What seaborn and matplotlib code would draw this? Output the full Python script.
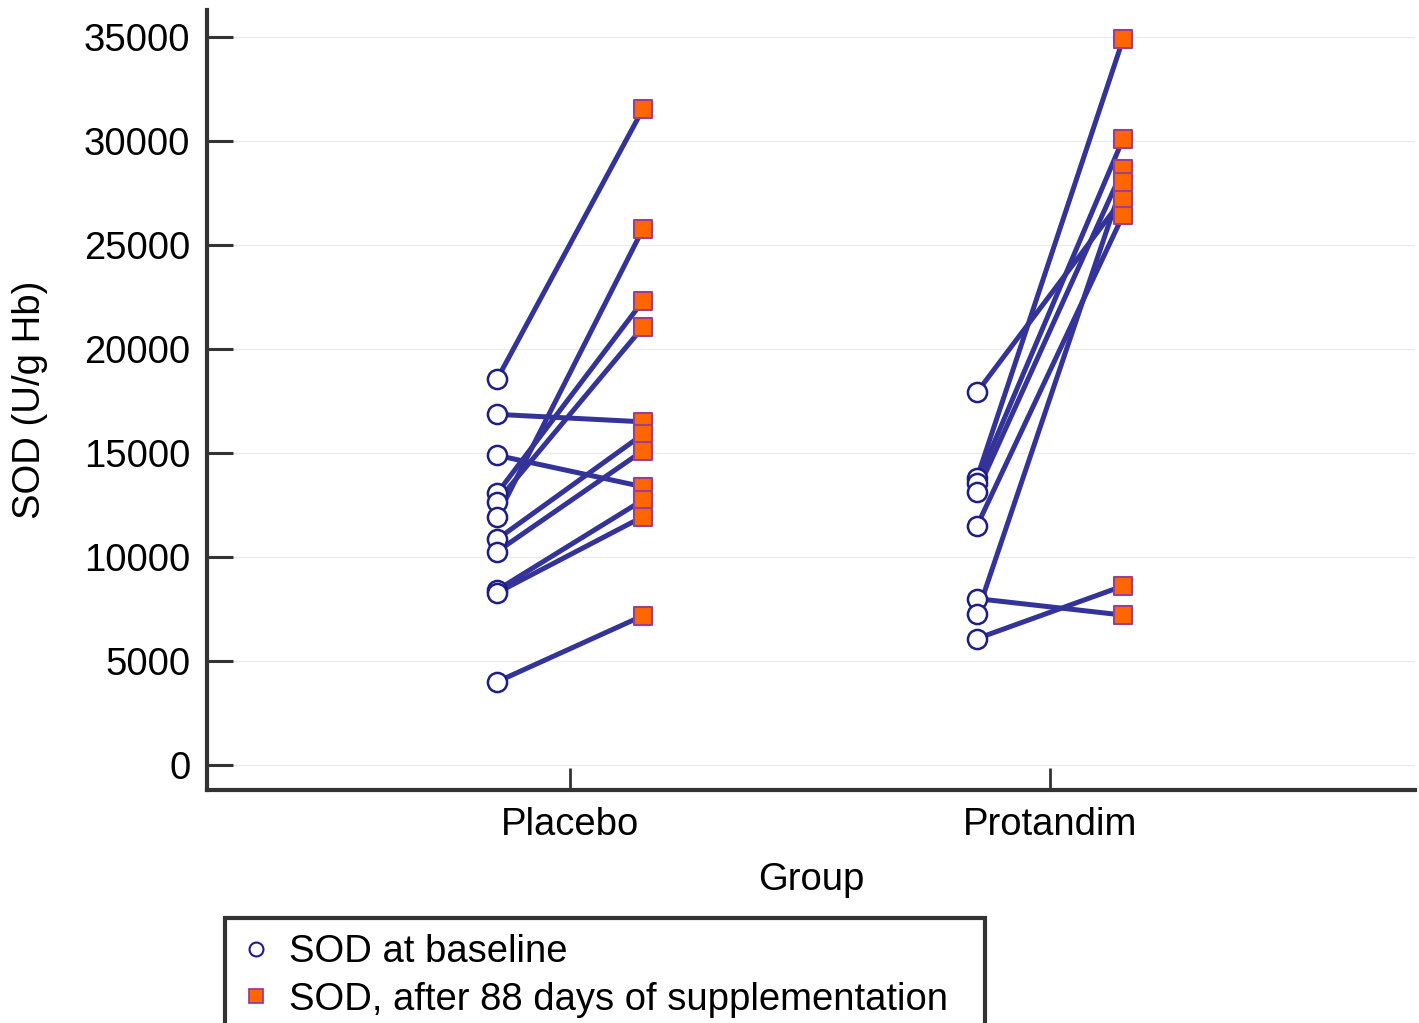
import matplotlib
matplotlib.use("Agg")
import matplotlib.pyplot as plt
import seaborn as sns
import pandas as pd
from matplotlib.lines import Line2D

# values, one entry per subject (baseline -> after 88 days)
groups = ["Placebo", "Protandim"]
placebo_baseline = [18540, 16860, 14890, 13060, 12660, 11940, 10850, 10260, 8410, 8280, 4000]
placebo_after = [31540, 16500, 13380, 22310, 21060, 25770, 15900, 15110, 12740, 11940, 7180]
protandim_baseline = [13820, 13580, 13150, 11510, 17930, 8000, 7280, 6080]
protandim_after = [34900, 30100, 28650, 26440, 27260, 7210, 28030, 8610]

yticks = [0, 5000, 10000, 15000, 20000, 25000, 30000, 35000]

LINE = "#333399"
CIRCLE_EDGE = "#1c1c8a"
SQ_FACE = "#ff6600"
SQ_EDGE = "#9c3f8c"
AXC = "#333333"
OFF = 0.152
FS = 27.5

rows = []
sid = 0
for gi, (base, after) in enumerate([(placebo_baseline, placebo_after),
                                    (protandim_baseline, protandim_after)]):
    for b, a in zip(base, after):
        rows.append(dict(subject=sid, group=groups[gi], phase="baseline", x=gi - OFF, sod=b))
        rows.append(dict(subject=sid, group=groups[gi], phase="after", x=gi + OFF, sod=a))
        sid += 1
df = pd.DataFrame(rows)

sns.set_style("white")
plt.rcParams["font.family"] = ["Liberation Sans", "DejaVu Sans"]

fig = plt.figure(figsize=(14.19, 10.23), dpi=100)
ax = fig.add_axes([207 / 1419, 1 - 790 / 1023, 1208 / 1419, 780 / 1023])

sns.lineplot(data=df, x="x", y="sod", units="subject", estimator=None, sort=False,
             color=LINE, lw=3.6, ax=ax, legend=False, zorder=2)
sns.scatterplot(data=df[df.phase == "baseline"], x="x", y="sod", marker="o", s=190,
                facecolor="white", edgecolor=CIRCLE_EDGE, linewidth=1.8, ax=ax, zorder=3)
sns.scatterplot(data=df[df.phase == "after"], x="x", y="sod", marker="s", s=165,
                facecolor=SQ_FACE, edgecolor=SQ_EDGE, linewidth=1.5, ax=ax, zorder=3)

ax.set_xlim(-0.756, 1.76)
ax.set_ylim(-1200, 36300)
ax.set_xticks(range(len(groups)))
ax.set_xticklabels(groups)
ax.set_yticks(yticks)
ax.yaxis.grid(True, color="#ebebeb", lw=1)
ax.set_axisbelow(True)

for side in ["top", "right"]:
    ax.spines[side].set_visible(False)
for side in ["left", "bottom"]:
    ax.spines[side].set_color(AXC)
    ax.spines[side].set_linewidth(3)

ax.tick_params(axis="y", left=True, direction="in", length=19, width=2.2, color=AXC,
               labelsize=FS, pad=12, labelcolor="black")
ax.tick_params(axis="x", bottom=True, direction="in", length=16, width=2, color=AXC,
               labelsize=FS, pad=12, labelcolor="black")
ax.set_xlabel("Group", fontsize=FS, labelpad=14, color="black")
ax.set_ylabel("SOD (U/g Hb)", fontsize=FS, labelpad=26, color="black")

handles = [
    Line2D([], [], marker="o", ls="none", markersize=10, markerfacecolor="white",
           markeredgecolor=CIRCLE_EDGE, markeredgewidth=1.5),
    Line2D([], [], marker="s", ls="none", markersize=10, markerfacecolor=SQ_FACE,
           markeredgecolor=SQ_EDGE, markeredgewidth=1.3),
]
leg = fig.legend(handles, ["SOD at baseline", "SOD, after 88 days of supplementation"],
                 loc="upper left", bbox_to_anchor=(225 / 1419, 1 - 918 / 1023 - 0.2, 760 / 1419, 0.2),
                 mode="expand", borderaxespad=0, fontsize=FS, handlelength=0.8,
                 handletextpad=0.45, labelspacing=0.3, borderpad=0.42,
                 fancybox=False, framealpha=1)
leg.get_frame().set_edgecolor(AXC)
leg.get_frame().set_linewidth(3)
for t in leg.get_texts():
    t.set_color("black")

fig.savefig("out.png", dpi=100)
